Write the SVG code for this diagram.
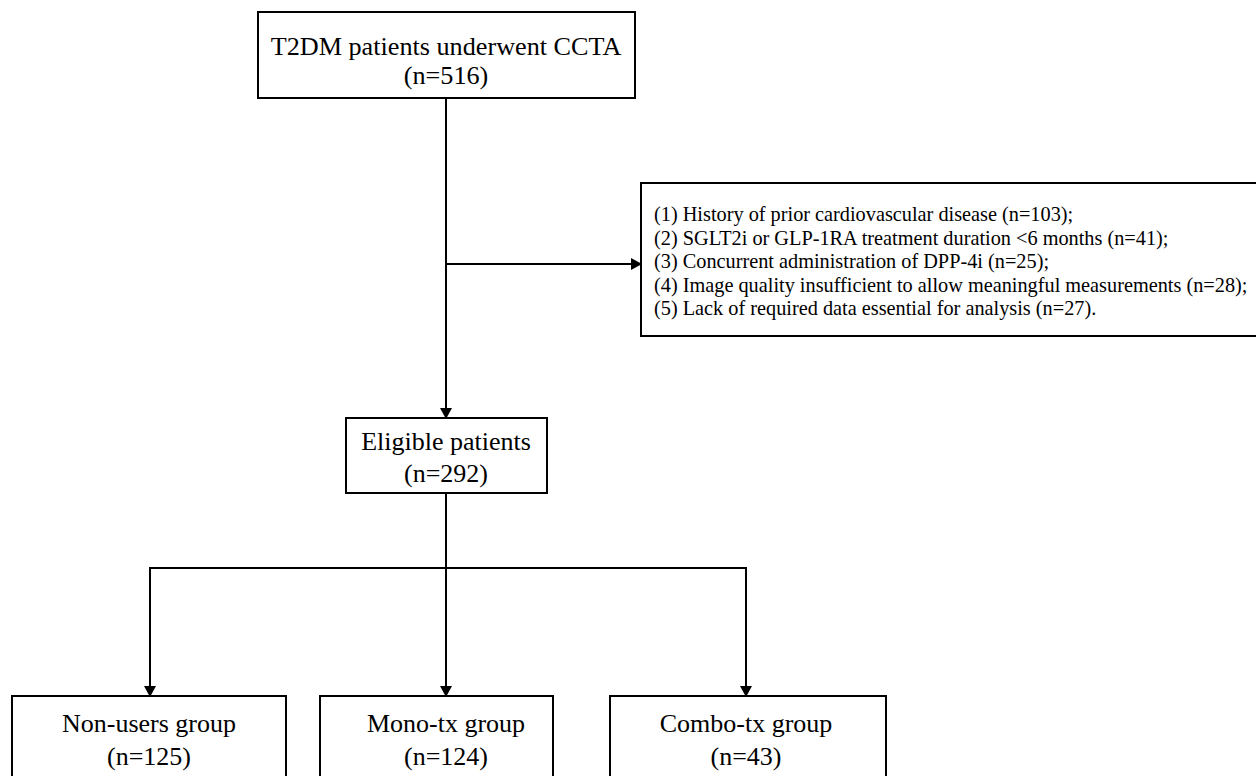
<svg xmlns="http://www.w3.org/2000/svg" width="1256" height="776" viewBox="0 0 1256 776">
<style>
.box{fill:#fff;stroke:#000;stroke-width:2}
.t{font-family:"Liberation Serif","Times New Roman",serif;fill:#000;text-anchor:middle}
.big{font-size:26.2px}
.mid{font-size:26px}
.sm{font-size:20.3px;text-anchor:start}
.ln{fill:none;stroke:#000;stroke-width:2}
</style>
<defs>
<marker id="ah" markerWidth="11" markerHeight="12" refX="10" refY="6" orient="auto" markerUnits="userSpaceOnUse">
<path d="M0,0 L11,6 L0,12 z" fill="#000"/>
</marker>
</defs>
<rect width="1256" height="776" fill="#fff"/>
<g id="connectors">
<line class="ln" x1="446" y1="98" x2="446" y2="418" marker-end="url(#ah)"/>
<line class="ln" x1="446" y1="264" x2="641" y2="264" marker-end="url(#ah)"/>
<line class="ln" x1="446" y1="493" x2="446" y2="696" marker-end="url(#ah)"/>
<line class="ln" x1="149" y1="568" x2="747" y2="568"/>
<line class="ln" x1="150" y1="567" x2="150" y2="696" marker-end="url(#ah)"/>
<line class="ln" x1="746" y1="567" x2="746" y2="696" marker-end="url(#ah)"/>
</g>
<g id="node-start">
<rect class="box" x="258" y="12" width="377" height="86"/>
<text class="t big" x="446" y="55">T2DM patients underwent CCTA</text>
<text class="t big" x="446" y="84">(n=516)</text>
</g>
<g id="node-exclusion">
<rect class="box" x="641" y="183" width="625" height="153"/>
<text class="t sm" x="654" y="221">(1) History of prior cardiovascular disease (n=103);</text>
<text class="t sm" x="654" y="244.5">(2) SGLT2i or GLP-1RA treatment duration &lt;6 months (n=41);</text>
<text class="t sm" x="654" y="268">(3) Concurrent administration of DPP-4i (n=25);</text>
<text class="t sm" x="654" y="291.5">(4) Image quality insufficient to allow meaningful measurements (n=28);</text>
<text class="t sm" x="654" y="315">(5) Lack of required data essential for analysis (n=27).</text>
</g>
<g id="node-eligible">
<rect class="box" x="346" y="418" width="201" height="75"/>
<text class="t mid" x="446" y="450">Eligible patients</text>
<text class="t mid" x="446" y="482">(n=292)</text>
</g>
<g id="node-nonusers">
<rect class="box" x="12" y="696" width="274" height="100"/>
<text class="t mid" x="149" y="732">Non-users group</text>
<text class="t mid" x="149" y="765">(n=125)</text>
</g>
<g id="node-mono">
<rect class="box" x="320" y="696" width="233" height="100"/>
<text class="t mid" x="446" y="732">Mono-tx group</text>
<text class="t mid" x="446" y="765">(n=124)</text>
</g>
<g id="node-combo">
<rect class="box" x="610" y="696" width="276" height="100"/>
<text class="t mid" x="746" y="732">Combo-tx group</text>
<text class="t mid" x="746" y="765">(n=43)</text>
</g>
</svg>
